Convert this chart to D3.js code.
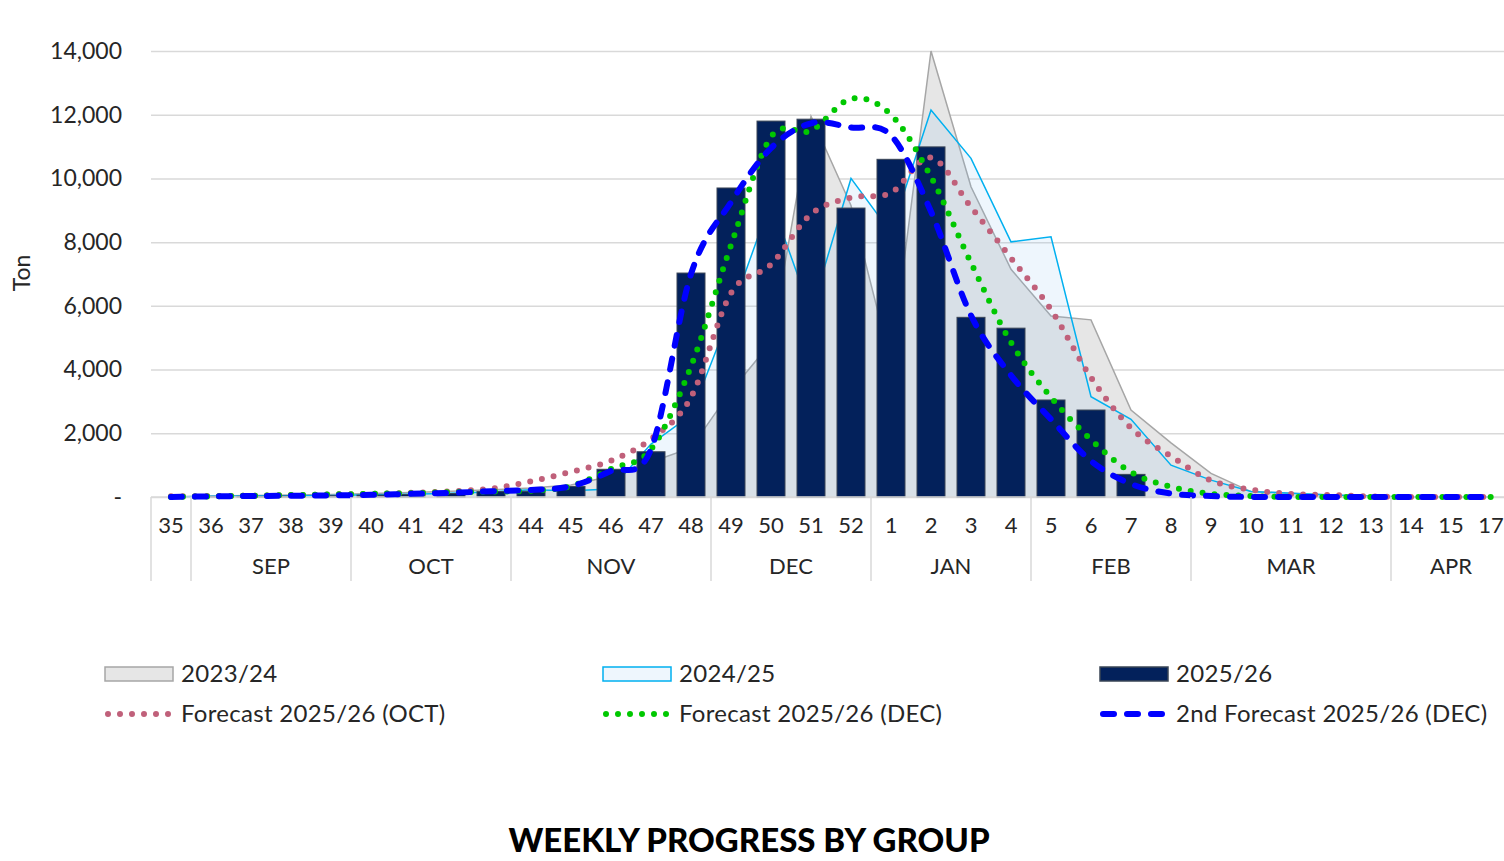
<!DOCTYPE html>
<head>
  <meta charset="utf-8">
  <script src="https://cdn.jsdelivr.net/npm/d3@7"></script>
  <style>
    body {
      margin:0;
      background:#fff;
    }
    text {
      font-family: Lato, "Noto Sans", sans-serif;
      fill: #262626;
    }
  </style>
</head>

<body>
  <svg width="1504" height="861"></svg>
  <script>
    // week labels (note: week 16 is not in the source chart)
    var weeks = ["35","36","37","38","39","40","41","42","43","44","45","46","47","48","49","50","51","52",
                 "1","2","3","4","5","6","7","8","9","10","11","12","13","14","15","17"];

    var monthNames = ["", "SEP", "OCT", "NOV", "DEC", "JAN", "FEB", "MAR", "APR"];
    var monthStarts = ["35", "36", "40", "44", "49", "1", "5", "9", "14"];

    var yTicks = [0, 2000, 4000, 6000, 8000, 10000, 12000, 14000];

    var season2324 = [0,30,50,60,80,110,140,180,230,280,380,650,1100,1540,3330,4850,11950,9150,
                      4200,14000,9740,7150,5680,5560,2730,1700,740,170,120,60,20,0,0,0];
    var season2425 = [0,20,30,40,50,70,90,120,160,230,200,250,1660,2570,5800,9300,5800,10000,
                      8300,12150,10630,8010,8170,3150,2440,1000,530,170,120,60,20,0,0,0];
    var season2526 = [0,10,20,30,40,60,80,110,170,180,330,870,1420,7030,9700,11800,11860,9070,
                      10600,10990,5640,5300,3045,2730,710,0,0,0,0,0,0,0,0,0];
    var forecastOct = [20,30,40,60,80,100,130,180,260,490,790,1140,1820,3130,6400,7300,8880,9400,
                       9550,10650,9100,7500,5880,3750,2170,1280,520,230,95,60,20,0,0,0];
    var forecastDec = [0,20,40,60,80,100,120,150,170,200,340,880,1500,4100,7900,11300,11500,12500,
                       12000,10050,7350,4850,3130,1800,780,320,100,30,0,0,0,0,0,0];
    var forecastDec2 = [0,20,30,40,50,70,100,130,180,220,340,820,1500,7000,9250,10950,11730,11600,
                        11350,8960,5700,3820,2440,1130,410,110,30,0,0,0,0,0,0,0];

    var legendLabels = ["2023/24", "2024/25", "2025/26",
                        "Forecast 2025/26 (OCT)", "Forecast 2025/26 (DEC)", "2nd Forecast 2025/26 (DEC)"];

    var svg = d3.select("svg"),
        width = +svg.attr("width");

    var x = d3.scaleBand().domain(weeks).range([151, 151 + weeks.length * 40]);
    var y = d3.scaleLinear().domain([0, 14000]).range([497, 51]);
    var cx = function (w) { return x(w) + x.bandwidth() / 2; };

    // gridlines + y labels
    var yAxis = svg.append("g")
      .attr("transform", "translate(151,0)")
      .call(d3.axisLeft(y)
        .tickValues(yTicks)
        .tickSize(-(width - 151))
        .tickPadding(29)
        .tickFormat(function (d) { return d === 0 ? "-" : d3.format(",")(d); }));
    yAxis.select(".domain").remove();
    yAxis.selectAll("line").attr("stroke", "#d9d9d9").attr("stroke-width", 1.5);
    yAxis.selectAll("text").attr("font-size", 23).attr("fill", "#262626");

    svg.append("text")
      .attr("transform", "translate(30,273) rotate(-90)")
      .attr("text-anchor", "middle")
      .attr("font-size", 23)
      .text("Ton");

    function rows(vals) {
      return weeks.map(function (w, i) { return { w: w, v: vals[i] }; });
    }

    var area = d3.area()
      .x(function (d) { return cx(d.w); })
      .y0(y(0))
      .y1(function (d) { return y(d.v); });
    var line = d3.line()
      .x(function (d) { return cx(d.w); })
      .y(function (d) { return y(d.v); });

    // 2023/24 area
    svg.append("path").datum(rows(season2324))
      .attr("d", area).attr("fill", "#e6e6e6");
    svg.append("path").datum(rows(season2324))
      .attr("d", line).attr("fill", "none").attr("stroke", "#a6a6a6").attr("stroke-width", 1.5);

    // 2024/25 area
    svg.append("path").datum(rows(season2425))
      .attr("d", area).attr("fill", "rgb(133,190,240)").attr("fill-opacity", 0.14);
    svg.append("path").datum(rows(season2425))
      .attr("d", line).attr("fill", "none").attr("stroke", "#00b0f0").attr("stroke-width", 1.5);

    // 2025/26 bars
    var bw = x.bandwidth() * 0.7;
    svg.append("g").selectAll("rect")
      .data(rows(season2526).filter(function (d) { return d.v > 0; }))
      .enter().append("rect")
        .attr("x", function (d) { return cx(d.w) - bw / 2; })
        .attr("y", function (d) { return y(d.v); })
        .attr("width", bw)
        .attr("height", function (d) { return y(0) - y(d.v); })
        .attr("fill", "#03215b")
        .attr("stroke", "#3a4556")
        .attr("stroke-width", 1);

    // x axis baseline
    svg.append("line")
      .attr("x1", 151).attr("x2", width)
      .attr("y1", y(0)).attr("y2", y(0))
      .attr("stroke", "#d9d9d9").attr("stroke-width", 1.5);

    // forecasts
    var smooth = d3.line()
      .curve(d3.curveCardinal.tension(0))
      .x(function (d) { return cx(d.w); })
      .y(function (d) { return y(d.v); });

    var forecasts = [
      { vals: forecastOct, color: "#c0607a", dash: "0 12", w: 6 },
      { vals: forecastDec, color: "#00c800", dash: "0 12", w: 6 },
      { vals: forecastDec2, color: "#0000ff", dash: "11 13", w: 6 }
    ];
    forecasts.forEach(function (f) {
      svg.append("path").datum(rows(f.vals))
        .attr("d", smooth)
        .attr("fill", "none")
        .attr("stroke", f.color)
        .attr("stroke-width", f.w)
        .attr("stroke-dasharray", f.dash)
        .attr("stroke-linecap", "round");
    });

    // x tick labels
    var xAxis = svg.append("g")
      .attr("transform", "translate(0," + y(0) + ")")
      .call(d3.axisBottom(x).tickSize(0).tickPadding(20));
    xAxis.select(".domain").remove();
    xAxis.selectAll("text").attr("font-size", 22).attr("fill", "#262626");

    // month groups
    var bounds = monthStarts.map(function (w) { return x(w); }).concat([x.range()[1]]);
    svg.append("g").selectAll("line")
      .data(bounds)
      .enter().append("line")
        .attr("x1", function (d) { return d; }).attr("x2", function (d) { return d; })
        .attr("y1", y(0)).attr("y2", 581)
        .attr("stroke", "#d9d9d9").attr("stroke-width", 1.5);
    svg.append("g").selectAll("text")
      .data(monthNames)
      .enter().append("text")
        .attr("x", function (d, i) { return (bounds[i] + bounds[i + 1]) / 2; })
        .attr("y", 574)
        .attr("text-anchor", "middle")
        .attr("font-size", 22)
        .text(function (d) { return d; });

    // legend
    var legX = [105, 603, 1100], legY = [674, 714];
    var lg = svg.append("g");
    var swatches = [
      { fill: "#e6e6e6", stroke: "#a6a6a6" },
      { fill: "#eef6fd", stroke: "#00b0f0" },
      { fill: "#03215b", stroke: "#3a4556" }
    ];
    swatches.forEach(function (s, i) {
      lg.append("rect")
        .attr("x", legX[i]).attr("y", legY[0] - 7)
        .attr("width", 68).attr("height", 14)
        .attr("fill", s.fill).attr("stroke", s.stroke).attr("stroke-width", 1.5);
    });
    forecasts.forEach(function (f, i) {
      lg.append("line")
        .attr("x1", legX[i] + 3).attr("x2", legX[i] + 66)
        .attr("y1", legY[1]).attr("y2", legY[1])
        .attr("stroke", f.color)
        .attr("stroke-width", f.w)
        .attr("stroke-dasharray", f.dash)
        .attr("stroke-linecap", "round");
    });
    legendLabels.forEach(function (t, i) {
      lg.append("text")
        .attr("x", legX[i % 3] + 76)
        .attr("y", legY[Math.floor(i / 3)])
        .attr("dy", "0.35em")
        .attr("font-size", 24)
        .attr("letter-spacing", 0.3)
        .text(t);
    });

    svg.append("text")
      .attr("x", 749).attr("y", 852)
      .attr("text-anchor", "middle")
      .attr("font-size", 33)
      .attr("font-weight", 900)
      .style("fill", "#000")
      .text("WEEKLY PROGRESS BY GROUP");
  </script>
</body>
